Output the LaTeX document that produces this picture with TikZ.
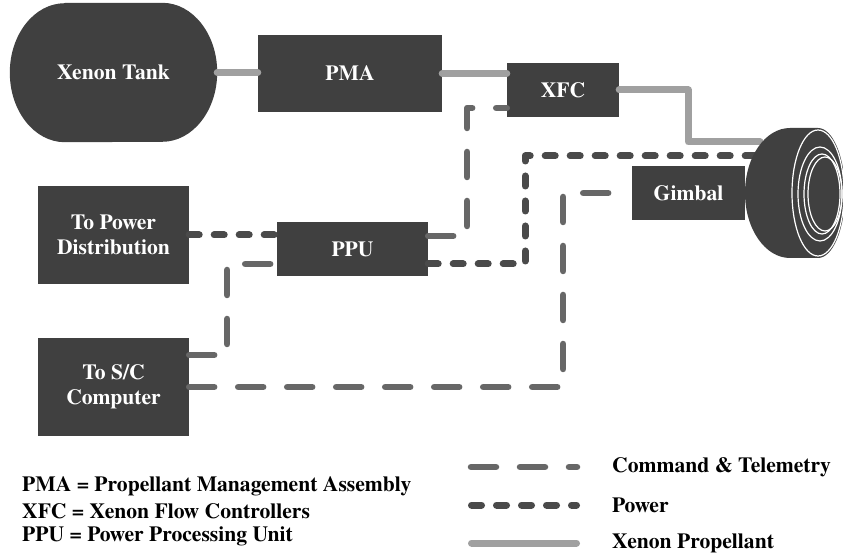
\documentclass[tikz,border=0pt]{standalone}
\usepackage{fontspec}
\setmainfont{TeX Gyre Termes}
\usetikzlibrary{backgrounds}
\definecolor{boxgray}{HTML}{404040}
\definecolor{cmdgray}{HTML}{676767}
\definecolor{pwrgray}{HTML}{4A4A4A}
\definecolor{propgray}{HTML}{A0A0A0}
\begin{document}
\begin{tikzpicture}[x=1pt,y=1pt,
  box/.style={fill=boxgray, text=white, font=\bfseries\fontsize{21.6}{25}\selectfont, align=center, inner sep=0pt},
  plain/.style={text=white, font=\bfseries\fontsize{21.6}{25}\selectfont, align=center, inner sep=0pt},
  prop/.style={line width=7pt, draw=propgray, line cap=round, line join=round},
  cmd/.style={line width=6.5pt, draw=cmdgray, line cap=round, line join=round, dash pattern=on 25pt off 24pt},
  pwr/.style={line width=7pt, draw=pwrgray, line cap=round, line join=round, dash pattern=on 10pt off 15pt},
  legtext/.style={anchor=west, font=\bfseries\fontsize{21.6}{25}\selectfont, inner sep=0pt},
  ring/.style={draw=white, line width=1.2pt}]
\useasboundingbox (0,0) rectangle (843,557);
\clip (0,0) rectangle (843,557);

% tank
\node[plain, minimum width=207pt, minimum height=139pt] (tank) at (113.5,484.5) {Xenon Tank};
\begin{scope}[on background layer]
\fill[boxgray] ([xshift=55pt]tank.north west) -- ([xshift=-55pt]tank.north east)
  arc[start angle=90, end angle=-90, x radius=55pt, y radius=69.5pt]
  -- ([xshift=55pt]tank.south west)
  arc[start angle=270, end angle=90, x radius=55pt, y radius=69.5pt] -- cycle;
\end{scope}

% boxes
\node[box, minimum width=184pt, minimum height=77pt] (pma) at (350,483.5) {PMA};
\node[box, minimum width=112pt, minimum height=54pt] (xfc) at (563,467) {XFC};
\node[box, minimum width=151pt, minimum height=98pt] (topd) at (113.5,322) {To Power\\Distribution};
\node[box, minimum width=151pt, minimum height=54pt] (ppu) at (352.5,308) {PPU};
\node[box, minimum width=151pt, minimum height=98pt] (tosc) at (113.5,170) {To S/C\\Computer};
\node[box, minimum width=113pt, minimum height=54pt] (gimbal) at (688.5,364) {Gimbal};

% thruster attachment points
\coordinate (thrP) at (760,415);
\coordinate (thrE) at (760,401);

% propellant
\draw[prop] (tank.east) -- (tank.east -| pma.west);
\draw[prop] (pma.east) -- (pma.east -| xfc.west);
\draw[prop] (xfc.east) -- ++(69,0) |- (thrP);

% command & telemetry
\draw[cmd] ([yshift=13pt]ppu.east) -- ++(39,0) |- ([yshift=-18pt]xfc.west);
\draw[cmd] ([yshift=32pt]tosc.east) -- ++(38,0) |- ([yshift=-15pt]ppu.west);
\draw[cmd] (tosc.east) -- ++(374,0) |- (gimbal.west);

% power
\draw[pwr] (topd.east) -- (topd.east -| ppu.west);
\draw[pwr] ([yshift=-15pt]ppu.east) -- ++(97,0) |- (thrE);

% thruster
\coordinate (thr) at (794,364);
\fill[boxgray] (790,429) -- (818,429)
  arc[start angle=90, end angle=-90, x radius=27pt, y radius=65pt]
  -- (790,299)
  arc[start angle=270, end angle=90, x radius=45pt, y radius=65pt] -- cycle;
\draw[ring] (818,364) ellipse[x radius=26pt, y radius=63pt];
\draw[ring] (820,363) ellipse[x radius=22pt, y radius=47pt];
\draw[ring] (822,363) ellipse[x radius=18pt, y radius=40pt];
\draw[ring] (825,363) ellipse[x radius=17pt, y radius=37pt];

% legend
\coordinate (lc1) at (471,90);   \coordinate (lc2) at (577,90);
\coordinate (lp1) at (471.5,52); \coordinate (lp2) at (576.5,52);
\coordinate (lx1) at (471.5,14); \coordinate (lx2) at (576.5,14);
\draw[cmd] (lc1) -- (lc2);
\draw[pwr] (lp1) -- (lp2);
\draw[prop] (lx1) -- (lx2);
\node[legtext] (tcmd) at (612,90) {Command \& Telemetry};
\node[legtext] (tpwr) at (612,52) {Power};
\node[legtext] (tprop) at (612,14) {Xenon Propellant};
\node[legtext] (dpma) at (22,71) {PMA = Propellant Management Assembly};
\node[legtext] (dxfc) at (22,46) {XFC = Xenon Flow Controllers};
\node[legtext] (dppu) at (22,21) {PPU = Power Processing Unit};
\end{tikzpicture}
\end{document}
